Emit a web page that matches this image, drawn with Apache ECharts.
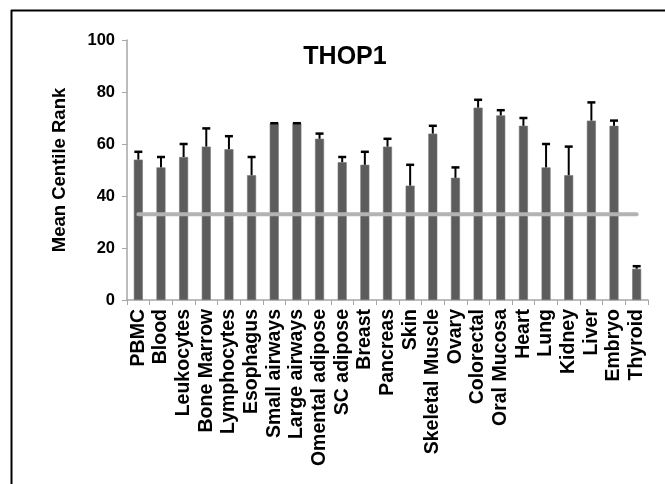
<!DOCTYPE html>
<html>
<head>
<meta charset="utf-8">
<script src="https://cdn.jsdelivr.net/npm/echarts@6/dist/echarts.min.js"></script>
<style>
html,body{margin:0;padding:0;background:#fff;}
#chart{width:665px;height:484px;}
</style>
</head>
<body>
<div id="chart"></div>
<script>
var categories = ["PBMC","Blood","Leukocytes","Bone Marrow","Lymphocytes","Esophagus","Small airways","Large airways","Omental adipose","SC adipose","Breast","Pancreas","Skin","Skeletal Muscle","Ovary","Colorectal","Oral Mucosa","Heart","Lung","Kidney","Liver","Embryo","Thyroid"];
var meanRank = [54,51,55,59,58,48,68,68,62,53,52,59,44,64,47,74,71,67,51,48,69,67,12];
var errorUp = [3,4,5,7,5,7,0,0,2,2,5,3,8,3,4,3,2,3,9,11,7,2,1];
var referenceValue = 33;
var yTicks = [0,20,40,60,80,100];

var refLine = categories.map(function(){ return referenceValue; });
var errData = categories.map(function(c,i){ return [i, meanRank[i], meanRank[i] + errorUp[i]]; });

var chart = echarts.init(document.getElementById('chart'), null, {renderer:'canvas'});
var font = '"Liberation Sans", Arial, sans-serif';
chart.setOption({
  animation:false,
  title:{text:'THOP1', left:340, top:40, textAlign:'center',
    textStyle:{fontFamily:font, fontWeight:'bold', fontSize:25, color:'#000'}},
  grid:{left:127, right:17, top:40, bottom:184, containLabel:false},
  xAxis:{type:'category', data:categories,
    axisLine:{lineStyle:{color:'#a6a6a6', width:1.5}},
    axisTick:{show:true, length:5, lineStyle:{color:'#a6a6a6'}},
    axisLabel:{rotate:90, interval:0, margin:9, color:'#000', fontFamily:font, fontWeight:'bold', fontSize:19.5}},
  yAxis:{type:'value', min:yTicks[0], max:yTicks[yTicks.length-1], interval:20,
    name:'Mean Centile Rank', nameLocation:'middle', nameGap:58, nameRotate:90,
    nameTextStyle:{fontFamily:font, fontWeight:'bold', fontSize:18.5, color:'#000'},
    axisLine:{show:true, lineStyle:{color:'#a6a6a6', width:1.5}},
    axisTick:{show:true, length:5, lineStyle:{color:'#a6a6a6'}},
    splitLine:{show:false},
    axisLabel:{margin:12, color:'#000', fontFamily:font, fontWeight:'bold', fontSize:16.5}},
  series:[
    {type:'bar', data:meanRank, barWidth:9,
      itemStyle:{color:'#5c5c5c', borderColor:'#777', borderWidth:0.6}, z:2},
    {type:'custom', data:errData, z:3,
      renderItem:function(params, api){
        var x = api.value(0);
        var p0 = api.coord([x, api.value(1)]);
        var p1 = api.coord([x, api.value(2)]);
        var hw = 4;
        return {type:'group', children:[
          {type:'line', shape:{x1:p0[0], y1:p0[1], x2:p1[0], y2:p1[1]}, style:{stroke:'#000', lineWidth:2}},
          {type:'line', shape:{x1:p1[0]-hw, y1:p1[1], x2:p1[0]+hw, y2:p1[1]}, style:{stroke:'#000', lineWidth:2.5}}
        ]};
      }},
    {type:'line', data:refLine, symbol:'none', z:4,
      lineStyle:{color:'#b3b3b3', width:4, cap:'round'}}
  ],
  graphic:[
    {type:'line', shape:{x1:11, y1:10.5, x2:665, y2:10.5}, style:{stroke:'#000', lineWidth:2}},
    {type:'line', shape:{x1:11.5, y1:10, x2:11.5, y2:484}, style:{stroke:'#000', lineWidth:2}}
  ]
});
</script>
</body>
</html>
